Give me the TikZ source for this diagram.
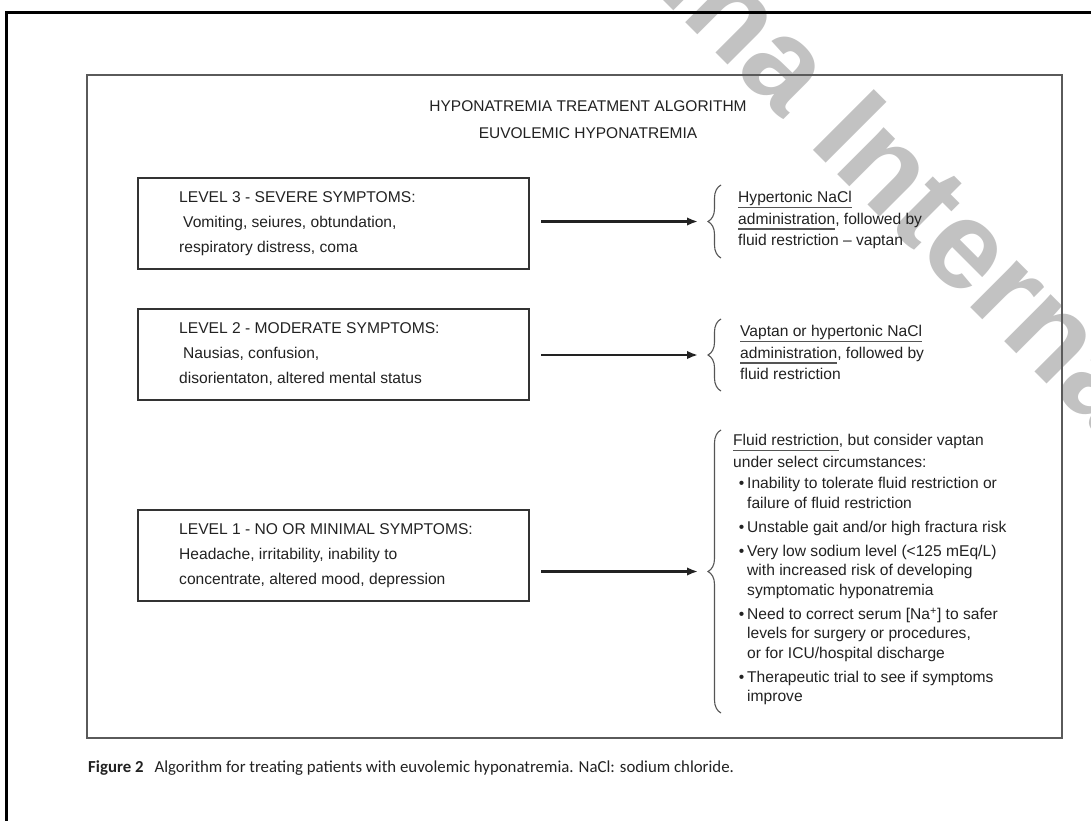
\documentclass[tikz,border=0pt]{standalone}
\usepackage{fontspec}
\setmainfont{Liberation Sans}
\newfontfamily\capfont{Carlito}
\usetikzlibrary{arrows.meta,decorations.pathreplacing}
\definecolor{txt}{HTML}{222222}
\definecolor{boxline}{HTML}{333333}
\definecolor{frameline}{HTML}{5A5A5A}
\definecolor{wm}{HTML}{C2C2C2}
\definecolor{ulc}{HTML}{555555}
\newcommand\myul[1]{\leavevmode\setbox0\hbox{#1}\rlap{\color{ulc}\rule[-5.5pt]{\wd0}{1.7pt}}\box0}
\tikzset{
  lvlbox/.style={draw=boxline, line width=2.4pt, minimum width=391pt, minimum height=91pt, inner sep=0pt},
  lvltext/.style={anchor=north west, align=left, inner sep=0pt, text=txt, font=\fontsize{15.6}{25}\selectfont},
  rtext/.style={anchor=north west, align=left, inner sep=0pt, text=txt, font=\fontsize{15.6}{21.5}\selectfont},
  arr/.style={draw=txt, line width=2.3pt, -{Latex[length=11pt,width=8.5pt]}},
  brc/.style={draw=ulc, line width=1.1pt, decorate, decoration={brace, amplitude=13pt}},
}
\begin{document}
\begin{tikzpicture}[x=1pt,y=-1pt]
\useasboundingbox (0,0) rectangle (1091,820);
\fill[white] (0,0) rectangle (1091,820);
% watermark
\node[text=wm, rotate=-45, anchor=base west, inner sep=0pt, font=\fontsize{125}{125}\selectfont\bfseries] (wmk) at (655,-8) {ina International};
% outer frame (partial)
\coordinate (fbl) at (6.5,820);
\coordinate (ftl) at (6.5,12);
\coordinate (ftr) at (1091,12);
\draw[line width=3pt, line cap=rect] (fbl) -- (ftl) -- (ftr);
% inner frame
\node[draw=frameline, line width=1.8pt, minimum width=975pt, minimum height=663pt, inner sep=0pt] (frame) at (574.5,406.5) {};
% title
\node[anchor=north, align=center, inner sep=0pt, text=txt, font=\fontsize{15.5}{27}\selectfont] (title) at (588,100.3) {HYPONATREMIA TREATMENT ALGORITHM\\EUVOLEMIC HYPONATREMIA};
% level boxes
\node[lvlbox] (L3) at (333.5,223.5) {};
\node[lvlbox] (L2) at (333.5,354.5) {};
\node[lvlbox] (L1) at (333.5,555.5) {};
\node[lvltext] (t3) at (179,191.3) {LEVEL 3 - SEVERE SYMPTOMS:\\\hspace*{4pt}Vomiting, seiures, obtundation,\\respiratory distress, coma};
\node[lvltext] (t2) at (179,322.3) {LEVEL 2 - MODERATE SYMPTOMS:\\\hspace*{4pt}Nausias, confusion,\\disorientaton, altered mental status};
\node[lvltext] (t1) at (179,523.3) {LEVEL 1 - NO OR MINIMAL SYMPTOMS:\\Headache, irritability, inability to\\concentrate, altered mood, depression};
% braces
\coordinate (b3top) at (721,185);
\coordinate (b3bot) at (721,258);
\coordinate (b2top) at (721,319);
\coordinate (b2bot) at (721,391);
\coordinate (b1top) at (721,430);
\coordinate (b1bot) at (721,713);
\draw[brc] (b3bot) -- (b3top);
\draw[brc] (b2bot) -- (b2top);
\draw[brc] (b1bot) -- (b1top);
% arrow targets
\coordinate (a3) at (698,221.5);
\coordinate (a2) at (698,355);
\coordinate (a1) at (698,571.5);
\draw[arr, shorten <=11pt] (L3.east |- a3) -- (a3);
\draw[arr, shorten <=11pt] (L2.east |- a2) -- (a2);
\draw[arr, shorten <=11pt] (L1.east |- a1) -- (a1);
% right texts
\node[rtext] (r3) at (738,191.4) {\myul{Hypertonic NaCl}\\\myul{administration}, followed by\\fluid restriction -- vaptan};
\node[rtext] (r2) at (740,325.3) {\myul{Vaptan or hypertonic NaCl}\\\myul{administration}, followed by\\fluid restriction};
\node[rtext, font=\fontsize{15.6}{22}\selectfont] (r1a) at (733,434.3) {\myul{Fluid restriction}, but consider vaptan\\under select circumstances:};
\node[rtext, font=\fontsize{15.6}{19.5}\selectfont] (r1b) at (747,477.3) {\llap{\textbullet\hspace{3pt}}Inability to tolerate fluid restriction or\\failure of fluid restriction\\[4.5pt]
\llap{\textbullet\hspace{3pt}}Unstable gait and/or high fractura risk\\[4.5pt]
\llap{\textbullet\hspace{3pt}}Very low sodium level (<125 mEq/L)\\with increased risk of developing\\symptomatic hyponatremia\\[4.5pt]
\llap{\textbullet\hspace{3pt}}Need to correct serum [Na\textsuperscript{+}] to safer\\levels for surgery or procedures,\\or for ICU/hospital discharge\\[4.5pt]
\llap{\textbullet\hspace{3pt}}Therapeutic trial to see if symptoms\\improve};
% caption
\node[anchor=base west, inner sep=0pt, text=txt, font=\capfont\fontsize{16.8}{20}\selectfont] (cap) at (88,772) {\textbf{Figure 2}\hspace{11pt}Algorithm for treating patients with euvolemic hyponatremia. NaCl: sodium chloride.};
\end{tikzpicture}
\end{document}
